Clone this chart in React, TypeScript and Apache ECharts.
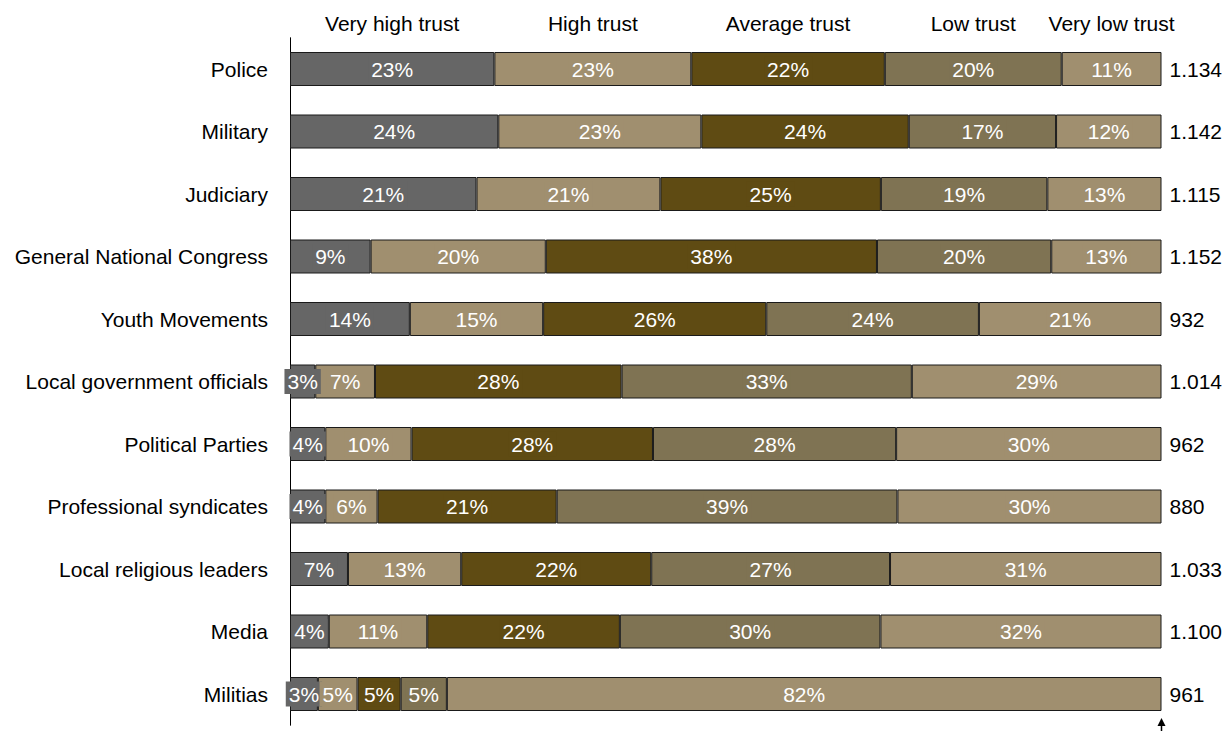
import React, { useEffect, useRef } from "react";
import * as echarts from "echarts";

const categories = [
  "Police",
  "Military",
  "Judiciary",
  "General National Congress",
  "Youth Movements",
  "Local government officials",
  "Political Parties",
  "Professional syndicates",
  "Local religious leaders",
  "Media",
  "Militias",
];

const respondents = ["1.134", "1.142", "1.115", "1.152", "932", "1.014", "962", "880", "1.033", "1.100", "961"];

const seriesNames = ["Very high trust", "High trust", "Average trust", "Low trust", "Very low trust"];

const veryHigh = [23.45, 23.9, 21.4, 9.25, 13.75, 2.9, 4.05, 4.05, 6.65, 4.45, 3.2];
const high = [22.6, 23.3, 21.1, 20.1, 15.3, 6.85, 9.9, 6.0, 13.0, 11.3, 4.55];
const average = [22.2, 23.8, 25.3, 38.0, 25.6, 28.3, 27.7, 20.55, 21.8, 22.1, 4.95];
const low = [20.3, 16.9, 19.1, 20.0, 24.4, 33.3, 27.9, 39.1, 27.4, 29.9, 5.3];
const veryLow = [11.45, 12.1, 13.1, 12.65, 20.95, 28.65, 30.45, 30.3, 31.15, 32.25, 82.0];

const seriesValues = [veryHigh, high, average, low, veryLow];
const seriesColors = ["#666666", "#A08F6F", "#5F4B13", "#7F7353", "#A08F6F"];

const FONT = "'Liberation Sans', Arial, sans-serif";
const FS = 21;

export default function App() {
  const ref = useRef<HTMLDivElement>(null);

  useEffect(() => {
    document.body.style.margin = "0";
    if (!ref.current) return;
    const chart = echarts.init(ref.current, null, { renderer: "svg" });

    const option: any = {
      animation: false,
      grid: { left: 290, right: 69.5, top: 37.75, height: 687.5, outerBoundsMode: "none" },
      xAxis: { type: "value", min: 0, max: 100, show: false },
      yAxis: [
        {
          type: "category",
          data: categories,
          inverse: true,
          axisLine: { show: true, lineStyle: { color: "#000", width: 1 } },
          axisTick: { show: false },
          splitLine: { show: false },
          axisLabel: { color: "#000", fontSize: FS, fontFamily: FONT, margin: 22 },
        },
        {
          type: "category",
          data: respondents,
          inverse: true,
          position: "right",
          axisLine: { show: false },
          axisTick: { show: false },
          splitLine: { show: false },
          axisLabel: { color: "#000", fontSize: FS, fontFamily: FONT, margin: 8 },
        },
      ],
      series: seriesNames.map((name, i) => ({
        name,
        type: "bar",
        stack: "total",
        yAxisIndex: 0,
        barWidth: 34,
        data: seriesValues[i],
        itemStyle: { color: seriesColors[i], borderColor: "#1a1a1a", borderWidth: 1 },
        label: {
          show: true,
          position: "inside",
          color: "#fff",
          fontSize: FS,
          fontFamily: FONT,
          backgroundColor: seriesColors[i],
          padding: [2, 3],
          formatter: (p: any) => Math.round(p.value) + "%",
        },
      })),
    };
    chart.setOption(option);

    // Column headers centred over the first row's segments, plus the marker at the axis end
    let cum = 0;
    const graphics: any[] = seriesNames.map((name, i) => {
      const v = seriesValues[i][0];
      const mid = cum + v / 2;
      cum += v;
      const x = chart.convertToPixel({ xAxisIndex: 0 }, mid) as number;
      return {
        type: "text",
        x,
        y: 23,
        style: { text: name, fontSize: FS, fontFamily: FONT, fill: "#000", align: "center", verticalAlign: "middle" },
      };
    });
    const xEnd = chart.convertToPixel({ xAxisIndex: 0 }, 100) as number;
    graphics.push({
      type: "line",
      shape: { x1: xEnd, y1: 725, x2: xEnd, y2: 731 },
      style: { stroke: "#000", lineWidth: 1.5 },
    });
    graphics.push({
      type: "polygon",
      shape: { points: [[xEnd - 4, 726], [xEnd + 4, 726], [xEnd, 718]] },
      style: { fill: "#000" },
    });
    chart.setOption({ graphic: graphics });

    return () => chart.dispose();
  }, []);

  return <div ref={ref} style={{ width: 1231, height: 731 }} />;
}
